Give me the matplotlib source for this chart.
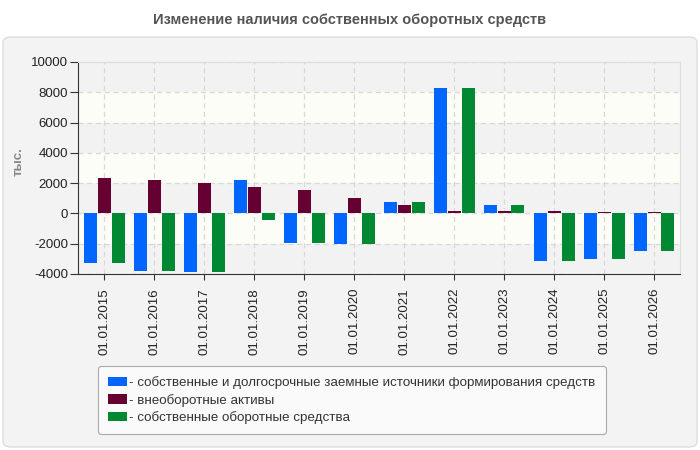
import matplotlib
matplotlib.use("Agg")
import matplotlib.pyplot as plt
from matplotlib.patches import FancyBboxPatch, Rectangle
import numpy as np

plt.rcParams['font.family'] = ['Liberation Sans', 'DejaVu Sans']
plt.rcParams['hatch.linewidth'] = 0.5

categories = ["01.01.2015", "01.01.2016", "01.01.2017", "01.01.2018", "01.01.2019", "01.01.2020",
              "01.01.2021", "01.01.2022", "01.01.2023", "01.01.2024", "01.01.2025", "01.01.2026"]
sources = [-3260, -3780, -3850, 2200, -1940, -2000, 745, 8260, 570, -3125, -2990, -2465]
noncurrent = [2330, 2195, 2000, 1735, 1540, 1010, 570, 150, 150, 150, 90, 90]
working = [-3260, -3780, -3850, -420, -1940, -2000, 745, 8260, 570, -3125, -2990, -2465]
series_names = ["- собственные и долгосрочные заемные источники формирования средств",
                "- внеоборотные активы",
                "- собственные оборотные средства"]
colors = ["#0066ff", "#660033", "#008833"]
yticks = [-4000, -2000, 0, 2000, 4000, 6000, 8000, 10000]

W, H = 700, 450
fig = plt.figure(figsize=(7, 4.5), dpi=100)
fig.patch.set_facecolor("white")

# panel background
panel = FancyBboxPatch((3 / W, 3 / H), 694 / W, 410 / H,
                       boxstyle="round,pad=0,rounding_size=0.012",
                       transform=fig.transFigure, facecolor="#f3f3f3",
                       edgecolor="#dddddd", linewidth=1, zorder=-5)
fig.patches.append(panel)

fig.text(0.5, 1 - 20 / H, "Изменение наличия собственных оборотных средств",
         ha="center", va="center", fontsize=10.5, fontweight="bold", color="#555555")

left, right, top, bottom = 78, 680, 62, 274
ax = fig.add_axes([left / W, 1 - bottom / H, (right - left) / W, (bottom - top) / H])
ax.set_zorder(2)
ax.set_facecolor("#f6f6f6")
ax.set_ylim(-4000, 10000)
ax.set_xlim(-0.52, 11.52)

# alternating bands
for i, (y0, y1) in enumerate(zip(yticks[:-1], yticks[1:])):
    if i % 2 == 0:
        ax.add_patch(Rectangle((-1, y0), 14, y1 - y0, facecolor="#f7f7f7", edgecolor="#ebebeb",
                               hatch="/" * 12, linewidth=0, zorder=0))
    else:
        ax.add_patch(Rectangle((-1, y0), 14, y1 - y0, facecolor="#fdfdf8", edgecolor="none",
                               linewidth=0, zorder=0))

x = np.arange(len(categories))
off = 0.28
wid = 0.26
for k, (vals, c, name) in enumerate(zip([sources, noncurrent, working], colors, series_names)):
    ax.bar(x + (k - 1) * off, vals, width=wid, color=c, label=name, zorder=3)

ax.set_yticks(yticks)
ax.set_yticklabels([str(v) for v in yticks], fontsize=9.5, color="#222222")
ax.set_xticks(x)
ax.set_xticklabels(categories, rotation=90, fontsize=9.5, color="#222222")
ax.grid(True, color="#d8d8d8", linestyle=(0, (4, 3)), linewidth=0.9)
ax.set_axisbelow("line")
for s in ["top", "right"]:
    ax.spines[s].set_color("#dddddd")
for s in ["left", "bottom"]:
    ax.spines[s].set_color("#333333")
ax.tick_params(axis="y", direction="out", length=6, color="#333333", pad=1)
ax.tick_params(axis="x", direction="out", length=4, color="#333333", pad=6)

fig.text(19 / W, 1 - 162 / H, "тыс.", rotation=90, ha="center", va="center",
         fontsize=9.5, fontweight="bold", color="#888888")

leg = fig.legend(loc="upper left", bbox_to_anchor=(98 / W, 1 - 366 / H),
                 frameon=True, fontsize=9.6, handlelength=1.4, handleheight=0.7,
                 handletextpad=0.2, labelspacing=0.35, borderpad=0.75, borderaxespad=0,
                 fancybox=True, edgecolor="#aaaaaa", facecolor="#fafafa", framealpha=1)
for t in leg.get_texts():
    t.set_color("#333333")
leg.get_frame().set_linewidth(0.8)

fig.savefig("out.png", dpi=100, facecolor=fig.get_facecolor())
